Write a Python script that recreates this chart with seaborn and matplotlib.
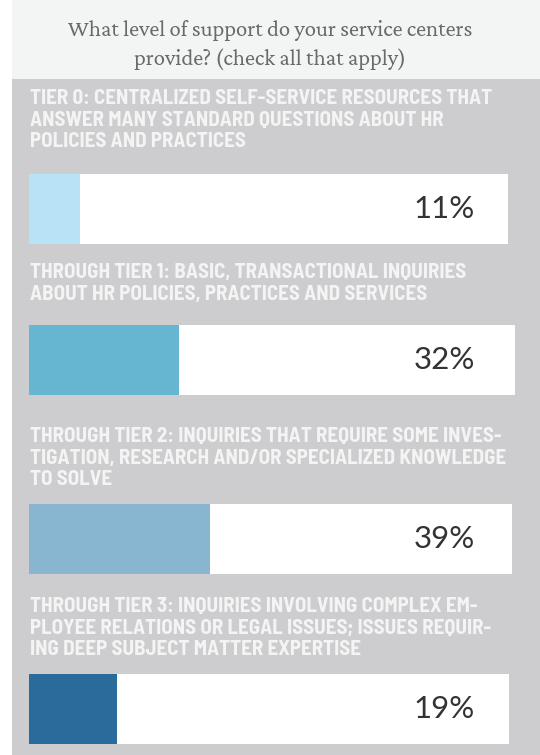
import matplotlib
matplotlib.use("Agg")
import matplotlib.pyplot as plt
import seaborn as sns
import pandas as pd
from matplotlib.patches import Rectangle

title = "What level of support do your service centers\nprovide? (check all that apply)"
labels = [
    "TIER 0: CENTRALIZED SELF-SERVICE RESOURCES THAT\nANSWER MANY STANDARD QUESTIONS ABOUT HR\nPOLICIES AND PRACTICES",
    "THROUGH TIER 1: BASIC, TRANSACTIONAL INQUIRIES\nABOUT HR POLICIES, PRACTICES AND SERVICES",
    "THROUGH TIER 2: INQUIRIES THAT REQUIRE SOME INVES-\nTIGATION, RESEARCH AND/OR SPECIALIZED KNOWLEDGE\nTO SOLVE",
    "THROUGH TIER 3: INQUIRIES INVOLVING COMPLEX EM-\nPLOYEE RELATIONS OR LEGAL ISSUES; ISSUES REQUIR-\nING DEEP SUBJECT MATTER EXPERTISE",
]
values = [11, 32, 39, 19]
colors = ["#b8e3f7", "#67b6d1", "#88b5cf", "#2a6b9b"]

sns.set_theme(style="white")
plt.rcParams["font.family"] = ["Barlow Semi Condensed", "DejaVu Sans"]

W, H = 540, 755
fig = plt.figure(figsize=(W / 100, H / 100), dpi=100)
fig.patch.set_facecolor("white")

def fx(px):
    return px / W

def fy(py):
    return 1 - py / H

# background panels
fig.add_artist(Rectangle((fx(12), fy(79)), fx(528), 79 / H, transform=fig.transFigure,
                         facecolor="#f3f4f4", edgecolor="none", zorder=-5))
fig.add_artist(Rectangle((fx(12), 0), fx(528), fy(79), transform=fig.transFigure,
                         facecolor="#cdcdcf", edgecolor="none", zorder=-5))

fig.text(0.5, fy(45), title, ha="center", va="center", fontsize=16.3,
         family=["Crimson Pro", "DejaVu Serif"], fontweight="bold", color="#6a6a6a",
         linespacing=1.38)

bar_boxes = [(29, 508, 174, 244), (29, 515, 325, 395), (29, 512, 504, 574), (29, 509, 674, 744)]
label_tops = [97, 271, 435, 605]

for lab, val, col, (x0, x1, y0, y1), ly in zip(labels, values, colors, bar_boxes, label_tops):
    fig.text(fx(30), fy(ly - 8), lab, ha="left", va="top", fontsize=15.1,
             fontweight="bold", color="#f4f4f4", linespacing=1.17)
    ax = fig.add_axes([fx(x0), fy(y1), fx(x1 - x0), (y1 - y0) / H])
    ax.set_facecolor("white")
    df = pd.DataFrame({"cat": [lab], "value": [val]})
    sns.barplot(data=df, x="value", y="cat", ax=ax, color=col, width=1.0,
                saturation=1, edgecolor="none", orient="h")
    ax.set_xlim(0, 104)
    ax.set_ylim(0.5, -0.5)
    ax.set_xticks([])
    ax.set_yticks([])
    ax.set_xlabel("")
    ax.set_ylabel("")
    for s in ax.spines.values():
        s.set_visible(False)
    ax.text((475 - x0) / (x1 - x0), 0.5, f"{val}%", transform=ax.transAxes, ha="right", va="center",
            fontsize=22.5, fontweight="normal", family=["Lato", "DejaVu Sans"], color="#333333")

fig.savefig("out.png", dpi=100, facecolor=fig.get_facecolor())
